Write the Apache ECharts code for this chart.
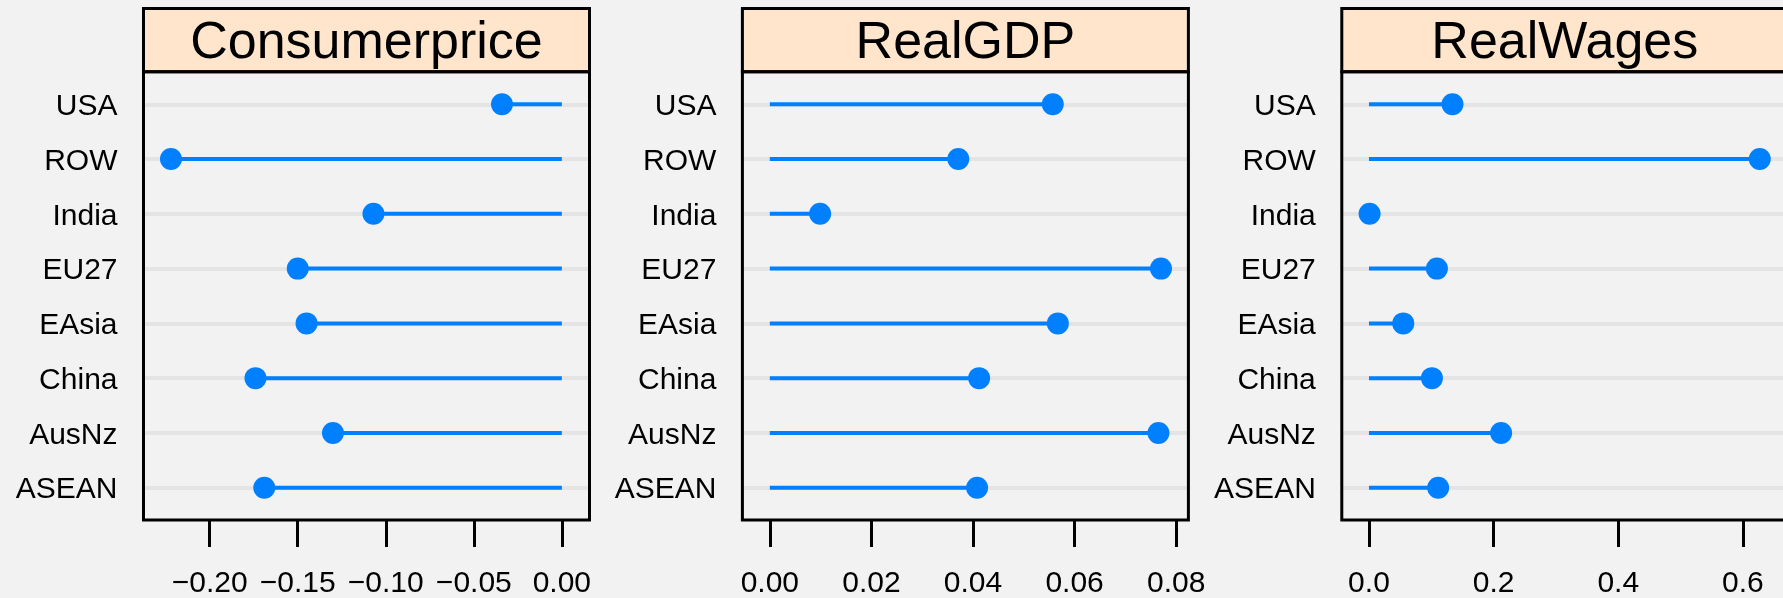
<!DOCTYPE html>
<html lang="en">
<head>
  <meta charset="UTF-8">
  <title>Lollipop panels</title>
  <script src="https://cdn.jsdelivr.net/npm/echarts@6/dist/echarts.min.js"></script>
  <style>
    body { margin: 0; background: #f2f2f2; }
  </style>
</head>
<body>
<div id="main" style="width:1783px;height:598px;"></div>
<script>
  // data
  var regions = ['USA', 'ROW', 'India', 'EU27', 'EAsia', 'China', 'AusNz', 'ASEAN'];
  var panelTitles = ['Consumerprice', 'RealGDP', 'RealWages'];
  var consumerprice = [-0.034, -0.222, -0.107, -0.150, -0.145, -0.174, -0.130, -0.169];
  var realgdp = [0.0557, 0.0371, 0.0099, 0.0770, 0.0567, 0.0412, 0.0765, 0.0408];
  var realwages = [0.134, 0.627, 0.001, 0.109, 0.055, 0.101, 0.212, 0.111];
  var ticksConsumer = [-0.20, -0.15, -0.10, -0.05, 0.00];
  var ticksGdp = [0.00, 0.02, 0.04, 0.06, 0.08];
  var ticksWages = [0.0, 0.2, 0.4, 0.6];

  var panelData = [consumerprice, realgdp, realwages];
  var panelTicks = [ticksConsumer, ticksGdp, ticksWages];
  var panelRange = [[-0.2376, 0.0157], [-0.0054, 0.0824], [-0.0436, 0.672]];
  var panelDigits = [2, 2, 1];

  // layout (px)
  var panelLeft = [143.5, 742.4, 1341.8];
  var panelWidth = 446;
  var stripTop = 8.5;
  var plotTop = 71.7;
  var plotBottom = 520;
  var rowStep = 54.77;
  var gridTop = plotTop + 32.6 - rowStep / 2;
  var gridHeight = rowStep * regions.length;

  var blue = '#0080ff';
  var font = 'Liberation Sans, Arial, sans-serif';

  function fmt(digits) {
    return function (v) {
      var s = Math.abs(v).toFixed(digits);
      return (v < -1e-9 ? '\u2212' : '') + s;
    };
  }

  var grids = [], xAxes = [], yAxes = [], series = [], graphics = [];

  for (var i = 0; i < 3; i++) {
    grids.push({
      left: panelLeft[i],
      top: gridTop,
      width: panelWidth,
      height: gridHeight,
      outerBoundsMode: 'none',
      containLabel: false
    });
    xAxes.push({
      type: 'value',
      gridIndex: i,
      min: panelRange[i][0],
      max: panelRange[i][1],
      offset: plotBottom - (gridTop + gridHeight),
      axisLine: { show: false },
      splitLine: { show: false },
      axisTick: {
        show: true,
        length: 27,
        customValues: panelTicks[i],
        lineStyle: { color: '#000', width: 3 }
      },
      axisLabel: {
        customValues: panelTicks[i],
        formatter: fmt(panelDigits[i]),
        fontSize: 30,
        fontFamily: font,
        color: '#000',
        margin: 49
      }
    });
    yAxes.push({
      type: 'category',
      gridIndex: i,
      data: regions,
      inverse: true,
      axisLine: { show: false },
      axisTick: { show: false },
      splitLine: { show: false },
      axisLabel: {
        margin: 26,
        // nudge the names down a little to sit on the row
        formatter: function (v) { return '{n|' + v + '}'; },
        rich: {
          n: { fontSize: 30, fontFamily: font, color: '#000', padding: [5, 0, 0, 0] }
        }
      }
    });
    // stems from 0 plus the row gridlines
    series.push({
      type: 'bar',
      xAxisIndex: i,
      yAxisIndex: i,
      data: panelData[i],
      barWidth: 4,
      z: 3,
      itemStyle: { color: blue },
      silent: true,
      markLine: {
        z: 1,
        silent: true,
        symbol: 'none',
        animation: false,
        label: { show: false },
        lineStyle: { color: '#e4e4e4', width: 4, type: 'solid' },
        data: regions.map(function (r) { return { yAxis: r }; })
      }
    });
    series.push({
      type: 'scatter',
      xAxisIndex: i,
      yAxisIndex: i,
      data: panelData[i],
      symbolSize: 22,
      z: 4,
      itemStyle: { color: blue, opacity: 1 }
    });

    // strip with the panel name and the panel frame
    graphics.push({
      type: 'rect',
      z: 10,
      shape: { x: panelLeft[i], y: stripTop, width: panelWidth, height: plotTop - stripTop },
      style: { fill: '#ffe5cc', stroke: '#000', lineWidth: 3 }
    });
    graphics.push({
      type: 'text',
      z: 11,
      x: panelLeft[i] + panelWidth / 2,
      y: (stripTop + plotTop) / 2 + 4,
      style: {
        text: panelTitles[i],
        fontSize: 52,
        fontFamily: font,
        fill: '#000',
        align: 'center',
        verticalAlign: 'middle'
      }
    });
    graphics.push({
      type: 'rect',
      z: 10,
      shape: { x: panelLeft[i], y: plotTop, width: panelWidth, height: plotBottom - plotTop },
      style: { fill: null, stroke: '#000', lineWidth: 3 }
    });
  }

  var myChart = echarts.init(document.getElementById('main'));
  myChart.setOption({
    animation: false,
    backgroundColor: '#f2f2f2',
    textStyle: { fontFamily: font },
    grid: grids,
    xAxis: xAxes,
    yAxis: yAxes,
    series: series,
    graphic: graphics
  });
</script>
</body>
</html>
